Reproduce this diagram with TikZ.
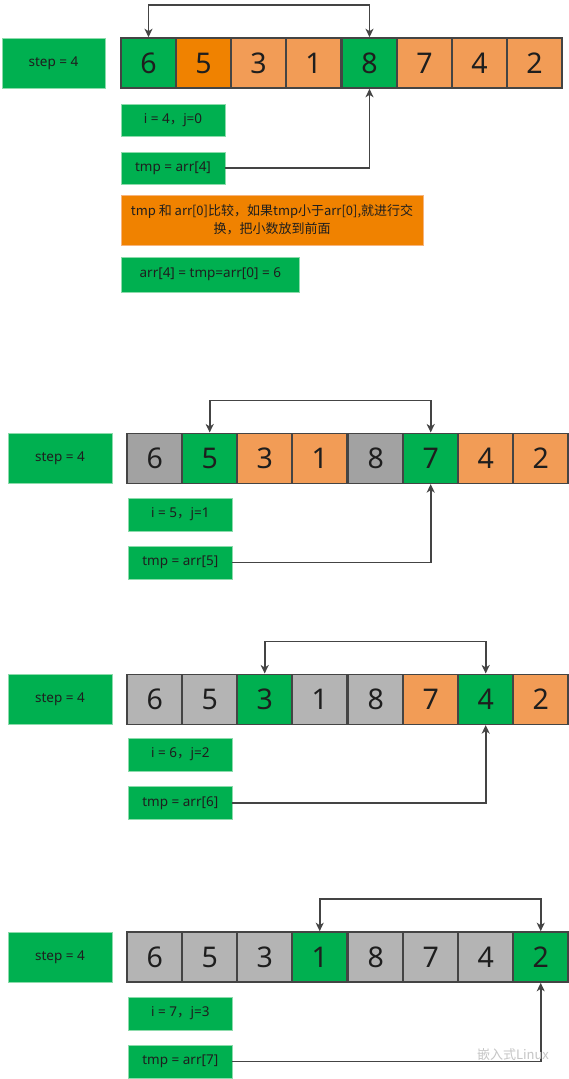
\documentclass[tikz,border=0pt]{standalone}
\usepackage{fontspec}
\setmainfont{Noto Sans}
\newfontfamily\cjk{Noto Sans CJK SC}
\usetikzlibrary{arrows.meta}
\definecolor{gr}{HTML}{00B050}
\definecolor{grb}{HTML}{8CDBAB}
\definecolor{od}{HTML}{F08200}
\definecolor{odb}{HTML}{F7B47C}
\definecolor{ol}{HTML}{F29C56}
\definecolor{gd}{HTML}{A2A2A2}
\definecolor{gl}{HTML}{B4B4B4}
\definecolor{ln}{HTML}{444444}
\definecolor{tx}{HTML}{1E1E1E}
\newcommand\rowcells[4]{%
  \foreach \v/\c [count=\k] in {#4} {
    \pgfmathsetmacro\xx{#2+55*(\k-1)+1*(\k>4)+27.5}
    \node[cell, fill=\c] (#1\k) at (\xx,#3) {\v};
  }}
\begin{document}
\begin{tikzpicture}[x=1pt,y=-1pt,
  cell/.style={draw=ln, line width=1.6pt, minimum width=55pt, minimum height=50pt, inner sep=0pt, text=tx, font=\fontsize{28.5}{30}\selectfont},
  gbox/.style={fill=gr, draw=grb, line width=0.8pt, inner sep=0pt, text=tx, font=\fontsize{13.5}{16}\selectfont},
  obox/.style={fill=od, draw=odb, line width=0.8pt, inner sep=0pt, text=tx, align=center, font=\cjk\fontsize{13}{18}\selectfont},
  conn/.style={draw=ln, line width=1.7pt},
  >={Stealth[length=8.5pt,width=8pt,inset=2.5pt]}]
\useasboundingbox (0,0) rectangle (569,1079);
\fill[white] (0,0) rectangle (569,1079);

% ---------- section 1 ----------
\node[gbox, minimum width=103pt, minimum height=50pt] (a0) at (53.5,63) {step = 4};
\rowcells{a}{121}{63}{6/gr,5/od,3/ol,1/ol,8/gr,7/ol,4/ol,2/ol}
\node[gbox, minimum width=104pt, minimum height=32pt] (ai) at (173,120) {i = 4{\cjk ，}j=0};
\node[gbox, minimum width=104pt, minimum height=32pt] (at) at (173,168) {tmp = arr[4]};
\node[obox, minimum width=302pt, minimum height=50pt] (ao) at (272,220) {tmp 和 arr[0]比较，如果tmp小于arr[0],就进行交\\换，把小数放到前面};
\node[gbox, minimum width=178.5pt, minimum height=35pt] (aa) at (210.3,274.5) {arr[4] = tmp=arr[0] = 6};
\draw[conn,<->] (a1.north) -- ++(0,-32) -| (a5.north);
\draw[conn,->] (at.east) -| (a5.south);

% ---------- section 2 ----------
\node[gbox, minimum width=104pt, minimum height=50pt] (b0) at (60,458.3) {step = 4};
\rowcells{b}{127.2}{458.3}{6/gd,5/gr,3/ol,1/ol,8/gd,7/gr,4/ol,2/ol}
\node[gbox, minimum width=103.5pt, minimum height=33pt] (bi) at (180.3,514.5) {i = 5{\cjk ，}j=1};
\node[gbox, minimum width=103.5pt, minimum height=33pt] (bt) at (180.3,562.5) {tmp = arr[5]};
\draw[conn,<->] (b2.north) -- ++(0,-32) -| (b6.north);
\draw[conn,->] (bt.east) -| (b6.south);

% ---------- section 3 ----------
\node[gbox, minimum width=104pt, minimum height=50pt] (c0) at (60,699.3) {step = 4};
\rowcells{c}{127.2}{699.3}{6/gl,5/gl,3/gr,1/gl,8/gl,7/ol,4/gr,2/ol}
\node[gbox, minimum width=103.5pt, minimum height=33pt] (ci) at (180.3,754.5) {i = 6{\cjk ，}j=2};
\node[gbox, minimum width=103.5pt, minimum height=33pt] (ct) at (180.3,803) {tmp = arr[6]};
\draw[conn,<->] (c3.north) -- ++(0,-32) -| (c7.north);
\draw[conn,->] (ct.east) -| (c7.south);

% ---------- section 4 ----------
\node[gbox, minimum width=104pt, minimum height=50pt] (d0) at (60,957) {step = 4};
\rowcells{d}{127.2}{957}{6/gl,5/gl,3/gl,1/gr,8/gl,7/gl,4/gl,2/gr}
\node[gbox, minimum width=103.5pt, minimum height=33pt] (di) at (180.3,1013.5) {i = 7{\cjk ，}j=3};
\node[gbox, minimum width=103.5pt, minimum height=33pt] (dt) at (180.3,1061.5) {tmp = arr[7]};
\draw[conn,<->] (d4.north) -- ++(0,-32) -| (d8.north);
\draw[conn,->] (dt.east) -| (d8.south);

% watermark
\node[text=gray!45, font=\cjk\fontsize{13}{15}\selectfont] (wm) at (513,1055) {嵌入式Linux};
\end{tikzpicture}
\end{document}
